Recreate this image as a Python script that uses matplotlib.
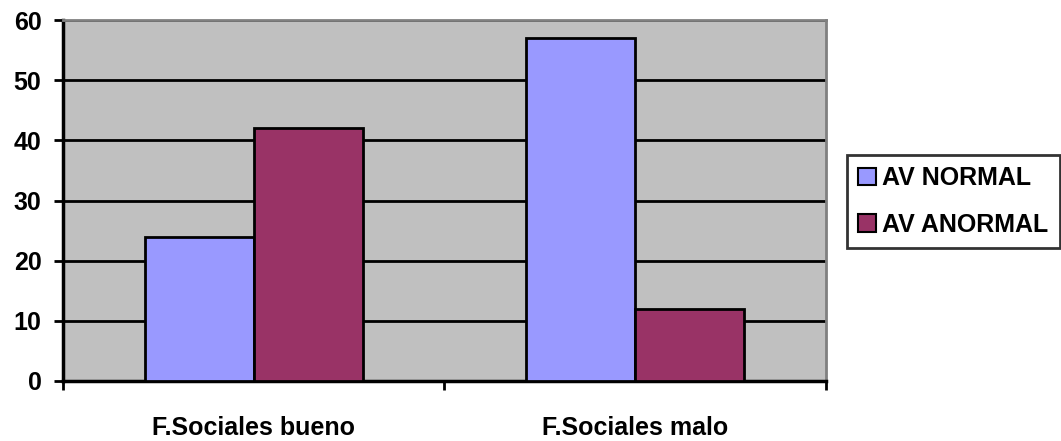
import matplotlib.pyplot as plt
import numpy as np

categories = ["F.Sociales bueno", "F.Sociales malo"]
av_normal = [24, 57]
av_anormal = [42, 12]
yticks = [0, 10, 20, 30, 40, 50, 60]

plt.rcParams['font.family'] = ['Liberation Sans', 'DejaVu Sans']
plt.rcParams['font.weight'] = 'bold'
FS = 18

fig = plt.figure(figsize=(10.61, 4.41), dpi=100)
ax = fig.add_axes([63 / 1061, 1 - 381 / 441, 763 / 1061, 361 / 441])
ax.set_facecolor('#C0C0C0')

x = np.arange(len(categories))
w = 0.286
ax.bar(x - w / 2, av_normal, w, color='#9999FF', edgecolor='black', linewidth=2,
       label='AV NORMAL', zorder=3)
ax.bar(x + w / 2, av_anormal, w, color='#993366', edgecolor='black', linewidth=2,
       label='AV ANORMAL', zorder=3)

ax.set_xlim(-0.5, 1.5)
ax.set_ylim(0, 60)
ax.set_yticks(yticks)
ax.set_yticklabels([str(v) for v in yticks], fontsize=FS, fontweight='bold')
ax.yaxis.grid(True, color='black', linewidth=2, zorder=1)
ax.set_axisbelow(True)

# category labels sit between the boundary ticks
ax.set_xticks([-0.5, 0.5, 1.5])
ax.set_xticklabels([])
ax.set_xticks(x, minor=True)
ax.set_xticklabels(categories, minor=True, fontsize=FS, fontweight='bold')
ax.tick_params(axis='x', which='minor', length=0, pad=25)
ax.tick_params(axis='x', which='major', length=6.5, width=2, direction='out')
ax.tick_params(axis='y', length=6.5, width=2, direction='out', pad=9)

for side in ['left', 'bottom']:
    ax.spines[side].set_color('black')
    ax.spines[side].set_linewidth(2.5)
for side in ['top', 'right']:
    ax.spines[side].set_color('#808080')
    ax.spines[side].set_linewidth(2)

leg = fig.legend(loc='upper left', bbox_to_anchor=(847 / 1061, 1 - 155 / 441),
                 frameon=True, fancybox=False, edgecolor='black',
                 prop={'size': FS, 'weight': 'bold'},
                 handlelength=0.7, handleheight=0.7, handletextpad=0.25,
                 borderpad=0.45, labelspacing=0.9, borderaxespad=0)
leg.get_frame().set_linewidth(2)
for p in leg.get_patches():
    p.set_linewidth(1.5)

fig.savefig('out.png', dpi=100)
